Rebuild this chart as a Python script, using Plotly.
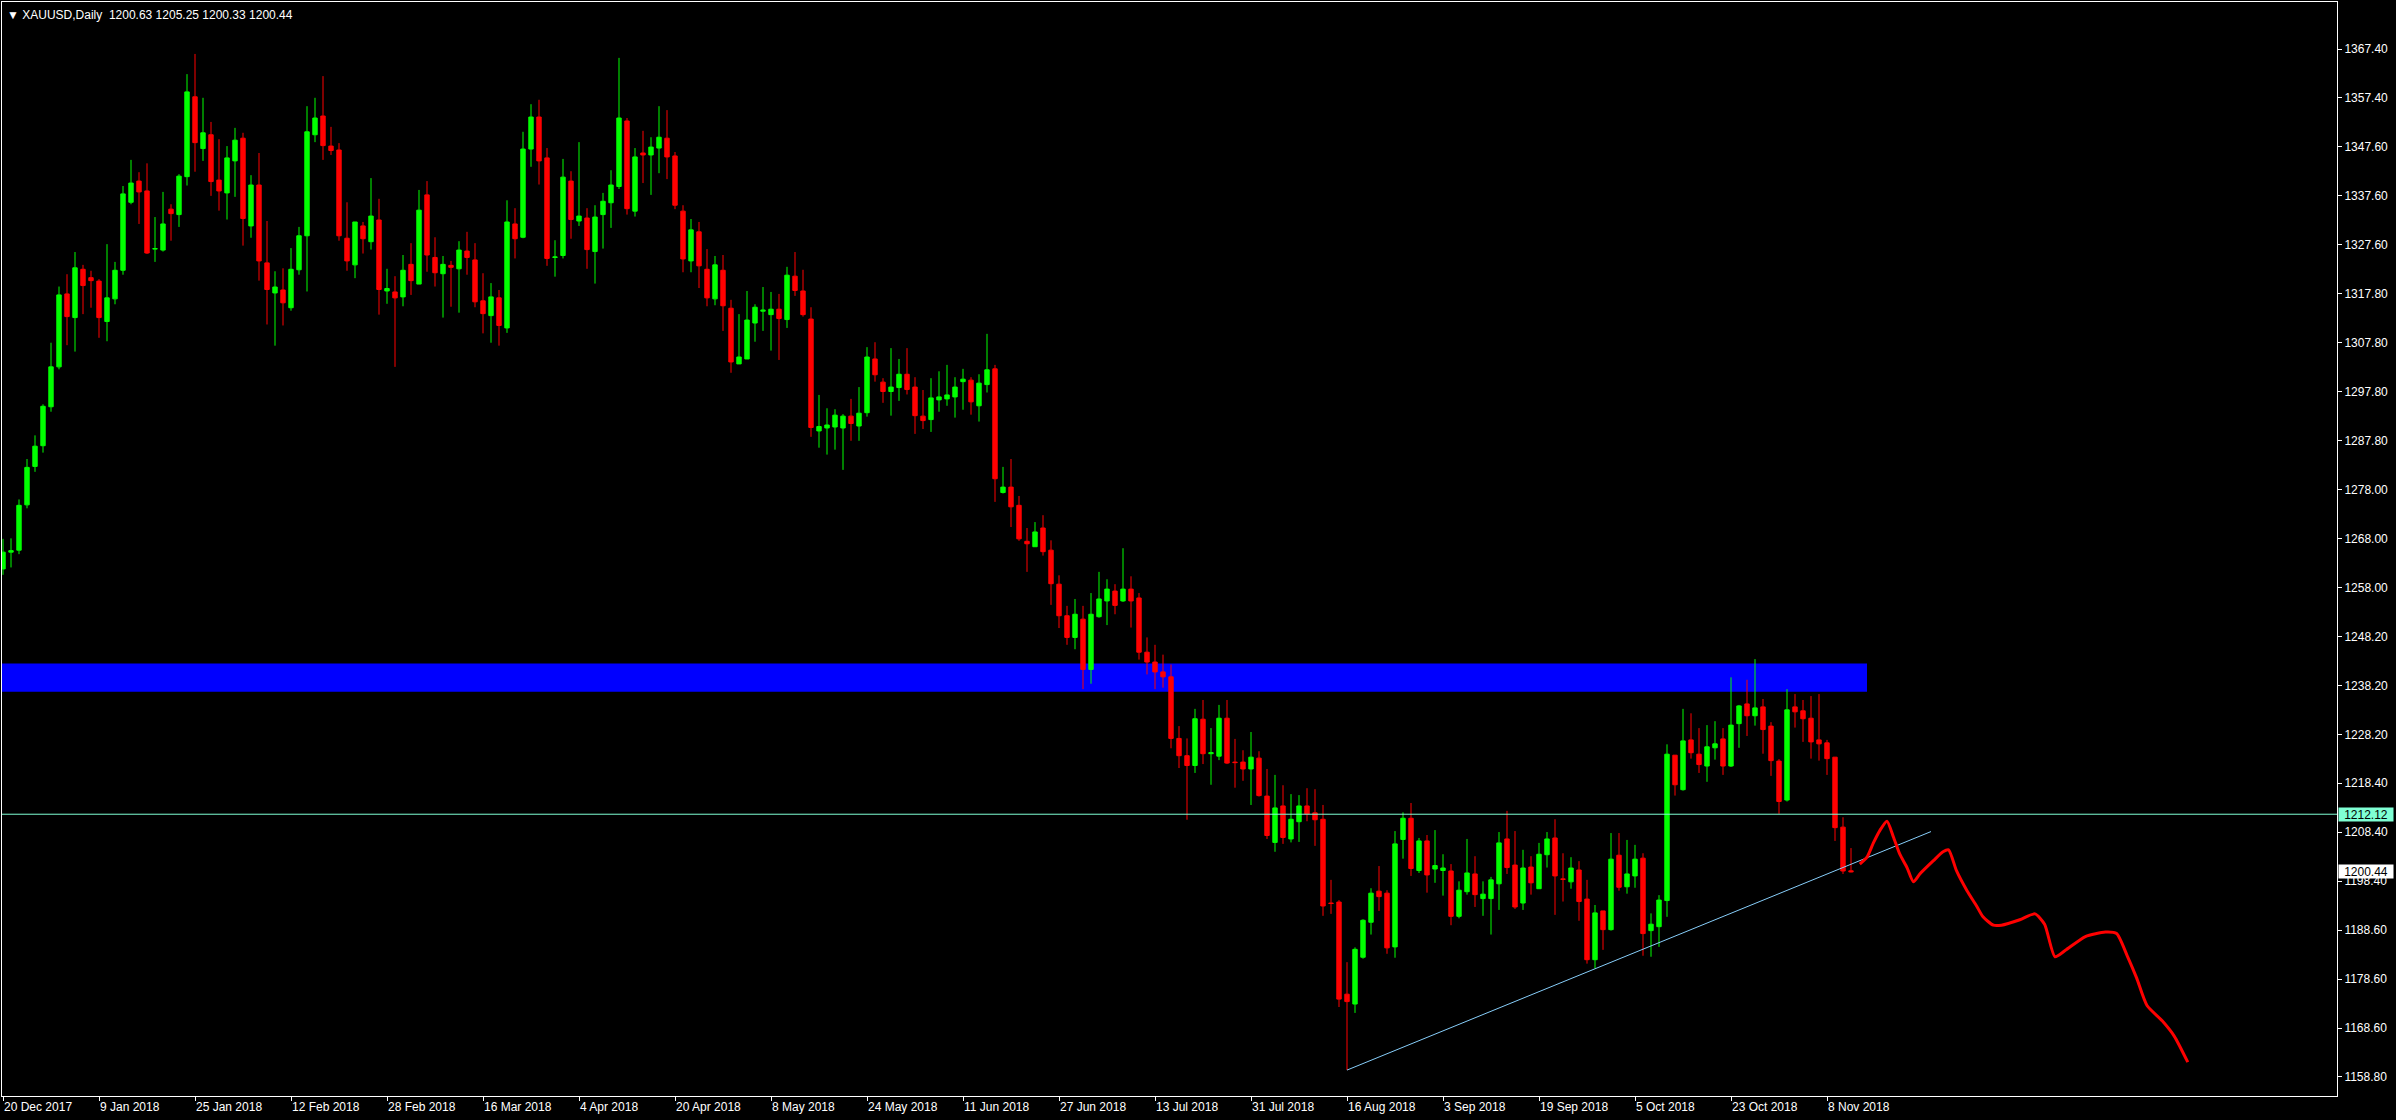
import numpy as np
import pandas as pd
import plotly.graph_objects as go

# ---------------- data ----------------
dates = pd.bdate_range("2017-12-20", "2018-11-13")
dates = dates[~dates.isin(pd.to_datetime(["2017-12-25", "2018-01-01", "2018-03-30"]))]

opens = [1261.9, 1265.3, 1265.7, 1274.9, 1282.7, 1286.9, 1294.8, 1302.9, 1317.7, 1312.9,
         1322.7, 1321.0, 1320.3, 1312.1, 1316.7, 1322.5, 1336.3, 1340.6, 1338.6, 1326.8,
         1326.6, 1334.9, 1333.8, 1341.5, 1357.7, 1347.2, 1350.0, 1340.8, 1338.2, 1344.7,
         1349.3, 1331.5, 1339.8, 1324.0, 1317.9, 1318.5, 1314.9, 1322.6, 1329.5, 1350.0,
         1353.8, 1347.7, 1346.9, 1329.0, 1323.6, 1331.5, 1328.3, 1332.7, 1318.3, 1318.1,
         1317.1, 1323.7, 1319.7, 1337.8, 1325.1, 1321.8, 1323.5, 1322.8, 1326.4, 1324.6,
         1316.3, 1313.3, 1316.9, 1310.8, 1331.9, 1329.2, 1347.1, 1353.6, 1345.3, 1325.1,
         1325.5, 1340.6, 1332.5, 1333.1, 1326.3, 1333.8, 1336.2, 1339.5, 1352.8, 1334.5,
         1346.3, 1345.9, 1347.3, 1349.3, 1345.7, 1334.5, 1324.4, 1330.3, 1322.7, 1316.7,
         1322.5, 1314.8, 1303.5, 1304.5, 1311.8, 1314.2, 1313.5, 1314.6, 1312.5, 1321.3,
         1318.3, 1312.6, 1289.9, 1290.5, 1290.7, 1290.5, 1292.9, 1290.9, 1293.6, 1304.5,
         1299.8, 1297.9, 1298.7, 1301.4, 1298.8, 1292.9, 1292.2, 1296.2, 1296.4, 1296.8,
         1299.9, 1300.2, 1295.0, 1299.3, 1302.5, 1277.4, 1278.5, 1274.8, 1267.5, 1266.4,
         1270.2, 1265.7, 1258.8, 1252.4, 1248.0, 1251.7, 1241.5, 1252.2, 1255.4, 1257.4,
         1255.4, 1257.8, 1256.0, 1245.0, 1243.0, 1241.0, 1240.0, 1227.5, 1224.0, 1222.0,
         1231.4, 1224.4, 1223.9, 1231.6, 1222.7, 1222.7, 1221.3, 1223.5, 1215.8, 1206.4,
         1213.8, 1207.1, 1210.6, 1213.8, 1212.4, 1211.1, 1194.1, 1194.3, 1175.6, 1173.6,
         1183.1, 1190.2, 1196.5, 1196.1, 1185.2, 1207.0, 1211.3, 1200.7, 1206.7, 1201.0,
         1200.7, 1200.6, 1191.4, 1196.4, 1200.0, 1195.0, 1195.0, 1198.0, 1207.1, 1201.8,
         1194.1, 1201.4, 1197.0, 1203.9, 1207.3, 1199.0, 1198.4, 1200.8, 1194.9, 1182.6,
         1192.5, 1188.7, 1203.8, 1197.4, 1199.6, 1203.2, 1188.5, 1189.3, 1194.6, 1224.1,
         1217.1, 1227.2, 1224.3, 1221.9, 1225.6, 1227.4, 1221.9, 1230.5, 1234.5, 1232.1,
         1233.9, 1230.0, 1222.9, 1215.0, 1233.9, 1233.1, 1231.6, 1227.2, 1226.6, 1223.7,
         1209.5, 1200.63]
highs = [1268.0, 1268.1, 1276.0, 1284.2, 1289.0, 1295.3, 1307.8, 1319.2, 1321.7, 1326.2,
         1323.6, 1322.4, 1320.7, 1327.8, 1324.2, 1339.6, 1344.9, 1342.4, 1344.2, 1333.3,
         1338.4, 1335.9, 1342.0, 1362.3, 1366.4, 1357.5, 1352.6, 1349.1, 1347.7, 1351.4,
         1350.4, 1341.8, 1346.3, 1332.5, 1322.3, 1322.9, 1327.0, 1331.3, 1355.8, 1357.5,
         1361.9, 1351.6, 1348.3, 1336.3, 1332.3, 1332.3, 1341.2, 1337.0, 1322.8, 1321.3,
         1325.6, 1328.0, 1338.8, 1340.6, 1329.2, 1325.4, 1324.4, 1328.4, 1330.3, 1328.0,
         1321.9, 1319.9, 1318.5, 1336.7, 1335.1, 1350.6, 1356.2, 1357.1, 1347.3, 1328.6,
         1345.1, 1342.6, 1348.5, 1335.1, 1335.7, 1338.2, 1342.8, 1365.6, 1353.4, 1347.3,
         1350.8, 1349.5, 1355.8, 1355.0, 1346.5, 1335.7, 1332.9, 1332.3, 1326.8, 1325.4,
         1325.6, 1316.5, 1313.6, 1318.3, 1315.6, 1319.1, 1318.1, 1317.7, 1323.2, 1326.2,
         1322.6, 1315.0, 1297.2, 1294.5, 1294.3, 1293.3, 1296.4, 1298.8, 1306.9, 1307.9,
         1300.6, 1306.7, 1304.5, 1306.7, 1300.8, 1298.2, 1300.6, 1302.0, 1303.3, 1300.8,
         1302.5, 1300.8, 1301.4, 1309.6, 1303.3, 1282.6, 1284.2, 1276.7, 1270.2, 1271.4,
         1272.8, 1267.7, 1260.6, 1254.4, 1255.8, 1254.4, 1257.0, 1261.3, 1259.8, 1258.8,
         1266.1, 1260.4, 1257.0, 1248.0, 1246.5, 1244.5, 1242.5, 1230.0, 1227.5, 1233.5,
         1235.3, 1229.6, 1234.3, 1235.3, 1227.4, 1225.1, 1228.8, 1224.9, 1221.3, 1220.1,
         1218.0, 1216.2, 1216.0, 1217.4, 1217.2, 1214.0, 1198.8, 1194.7, 1182.1, 1185.1,
         1190.8, 1197.1, 1201.6, 1196.7, 1208.7, 1212.5, 1214.4, 1207.3, 1207.9, 1208.9,
         1204.0, 1202.0, 1198.5, 1207.1, 1203.6, 1198.5, 1199.4, 1208.5, 1212.8, 1208.7,
         1204.9, 1203.6, 1206.3, 1208.5, 1211.1, 1204.2, 1203.4, 1202.6, 1198.8, 1193.7,
         1192.5, 1208.3, 1208.3, 1206.9, 1205.9, 1204.2, 1192.0, 1195.7, 1226.3, 1224.1,
         1233.5, 1232.6, 1229.6, 1230.2, 1231.0, 1229.6, 1239.9, 1234.3, 1239.4, 1243.6,
         1235.5, 1230.8, 1223.3, 1237.5, 1236.5, 1235.3, 1236.1, 1236.5, 1227.2, 1223.7,
         1211.5, 1205.25]
lows = [1260.7, 1262.2, 1264.9, 1274.2, 1281.6, 1285.5, 1293.8, 1302.4, 1307.3, 1306.0,
        1313.6, 1314.9, 1308.8, 1308.1, 1315.6, 1321.6, 1335.9, 1331.9, 1325.8, 1324.2,
        1326.3, 1328.5, 1331.3, 1339.7, 1342.5, 1344.7, 1337.6, 1334.6, 1332.8, 1337.4,
        1327.5, 1329.1, 1320.4, 1311.5, 1307.2, 1311.3, 1314.3, 1321.6, 1318.2, 1348.5,
        1344.9, 1345.9, 1328.5, 1322.4, 1320.9, 1325.9, 1326.7, 1313.5, 1315.7, 1302.9,
        1315.2, 1317.5, 1319.7, 1322.2, 1319.2, 1312.9, 1315.1, 1313.9, 1321.6, 1315.0,
        1309.7, 1307.8, 1307.2, 1309.8, 1324.9, 1329.0, 1343.5, 1339.9, 1323.4, 1321.2,
        1324.9, 1328.9, 1331.5, 1322.8, 1319.8, 1326.9, 1331.1, 1339.0, 1333.8, 1333.4,
        1340.2, 1337.8, 1342.2, 1341.0, 1334.9, 1322.1, 1322.1, 1318.9, 1315.2, 1315.4,
        1310.2, 1301.7, 1303.5, 1304.5, 1308.0, 1310.2, 1306.2, 1304.3, 1310.8, 1317.3,
        1313.1, 1288.7, 1286.5, 1285.1, 1286.1, 1282.0, 1287.9, 1287.9, 1292.8, 1299.9,
        1295.6, 1293.0, 1296.0, 1297.3, 1289.3, 1290.3, 1289.7, 1293.8, 1295.0, 1292.6,
        1294.2, 1293.2, 1291.8, 1297.7, 1275.5, 1277.2, 1270.4, 1267.6, 1261.3, 1266.4,
        1264.6, 1254.6, 1249.9, 1246.5, 1245.6, 1237.5, 1238.6, 1252.0, 1250.5, 1252.7,
        1255.2, 1250.0, 1243.5, 1240.5, 1237.5, 1237.8, 1225.5, 1221.5, 1211.0, 1220.5,
        1222.3, 1218.1, 1223.1, 1222.3, 1217.5, 1218.9, 1214.0, 1215.7, 1207.1, 1204.5,
        1206.1, 1206.4, 1206.5, 1210.7, 1205.7, 1191.5, 1191.9, 1173.0, 1160.2, 1171.8,
        1182.8, 1187.7, 1192.5, 1183.8, 1183.0, 1203.1, 1199.6, 1200.2, 1196.2, 1198.2,
        1195.6, 1189.6, 1191.0, 1195.8, 1193.3, 1191.5, 1187.7, 1192.7, 1200.0, 1192.9,
        1192.7, 1195.8, 1197.0, 1201.3, 1191.7, 1194.4, 1197.0, 1190.5, 1181.8, 1180.8,
        1184.6, 1188.5, 1196.6, 1196.0, 1197.2, 1183.4, 1183.2, 1185.2, 1191.3, 1215.9,
        1216.9, 1223.4, 1220.5, 1218.7, 1223.2, 1220.1, 1221.7, 1225.6, 1228.0, 1230.1,
        1224.4, 1219.9, 1212.2, 1214.7, 1229.7, 1226.8, 1223.4, 1223.0, 1220.1, 1206.7,
        1200.0, 1200.33]
closes = [1265.3, 1265.6, 1274.8, 1282.5, 1286.8, 1294.9, 1302.9, 1317.5, 1313.1, 1323.0,
          1319.4, 1320.4, 1312.9, 1316.9, 1322.5, 1338.0, 1340.2, 1338.4, 1326.0, 1326.9,
          1331.9, 1334.0, 1341.6, 1358.7, 1348.4, 1350.4, 1340.5, 1338.6, 1345.3, 1348.9,
          1333.0, 1339.8, 1324.4, 1318.6, 1319.1, 1315.9, 1322.7, 1329.5, 1350.6, 1353.4,
          1347.8, 1346.8, 1329.5, 1324.4, 1332.3, 1328.9, 1333.5, 1318.6, 1318.8, 1316.9,
          1322.5, 1320.4, 1334.7, 1325.6, 1322.0, 1323.7, 1323.1, 1326.6, 1325.1, 1316.1,
          1313.7, 1317.1, 1311.3, 1332.3, 1328.9, 1347.1, 1353.6, 1344.7, 1324.9, 1325.2,
          1341.4, 1332.8, 1333.5, 1326.7, 1333.3, 1336.5, 1339.8, 1353.4, 1335.0, 1345.5,
          1345.9, 1347.5, 1349.5, 1345.5, 1335.7, 1324.8, 1330.7, 1323.4, 1316.9, 1323.6,
          1315.3, 1303.9, 1304.9, 1312.4, 1315.0, 1314.4, 1314.6, 1312.7, 1321.5, 1318.4,
          1313.5, 1290.6, 1290.8, 1291.1, 1293.1, 1292.9, 1291.4, 1293.5, 1304.9, 1301.3,
          1297.9, 1298.8, 1301.4, 1298.3, 1293.0, 1292.0, 1296.6, 1296.8, 1297.2, 1298.8,
          1300.4, 1295.8, 1299.6, 1302.3, 1280.2, 1278.5, 1274.5, 1268.0, 1267.0, 1269.4,
          1265.4, 1258.9, 1252.4, 1248.0, 1252.7, 1241.5, 1252.7, 1255.8, 1257.8, 1254.5,
          1257.8, 1255.4, 1245.0, 1243.0, 1241.0, 1240.0, 1227.5, 1224.0, 1222.0, 1231.5,
          1224.4, 1224.6, 1231.6, 1222.5, 1222.6, 1221.3, 1223.7, 1215.9, 1207.8, 1213.4,
          1207.4, 1211.1, 1213.8, 1212.2, 1211.0, 1193.5, 1194.0, 1174.6, 1174.1, 1184.7,
          1190.6, 1196.1, 1195.4, 1185.0, 1206.1, 1211.3, 1201.1, 1206.7, 1199.8, 1201.7,
          1201.2, 1191.4, 1196.7, 1200.2, 1195.8, 1195.9, 1198.8, 1206.3, 1201.3, 1193.3,
          1201.2, 1198.2, 1204.0, 1207.1, 1199.6, 1198.9, 1201.2, 1194.4, 1182.6, 1192.1,
          1188.7, 1203.0, 1197.3, 1200.0, 1203.0, 1187.9, 1189.8, 1194.7, 1224.3, 1218.1,
          1227.0, 1224.6, 1222.2, 1225.8, 1226.4, 1221.9, 1230.2, 1234.1, 1232.1, 1233.7,
          1229.3, 1223.0, 1214.7, 1233.3, 1232.9, 1231.5, 1226.8, 1226.4, 1223.4, 1209.4,
          1200.6, 1200.44]

x_tick_labels = ["20 Dec 2017", "9 Jan 2018", "25 Jan 2018", "12 Feb 2018", "28 Feb 2018",
                 "16 Mar 2018", "4 Apr 2018", "20 Apr 2018", "8 May 2018", "24 May 2018",
                 "11 Jun 2018", "27 Jun 2018", "13 Jul 2018", "31 Jul 2018", "16 Aug 2018",
                 "3 Sep 2018", "19 Sep 2018", "5 Oct 2018", "23 Oct 2018", "8 Nov 2018"]
y_tick_labels = ["1158.80", "1168.60", "1178.60", "1188.60", "1198.40", "1208.40", "1218.40",
                 "1228.20", "1238.20", "1248.20", "1258.00", "1268.00", "1278.00", "1287.80",
                 "1297.80", "1307.80", "1317.80", "1327.60", "1337.60", "1347.60", "1357.40",
                 "1367.40"]

# support zone (blue band), trend line, projection
zone_low, zone_high, zone_end_bar = 1236.98, 1242.73, 233.0
trend_x = [168.0, 241.0]
trend_y = [1160.2, 1208.6]
hline_price = 1212.12
last_price = 1200.44
proj_x = [232.1, 233.0, 233.8, 234.6, 235.5, 236.3, 237.1, 238.0, 238.8, 239.6, 241.3, 242.5,
          243.2, 244.2, 245.5, 246.7, 247.5, 248.8, 249.8, 252.1, 254.0, 255.2, 256.5, 257.8,
          260.3, 262.8, 264.2, 265.5, 266.7, 268.0, 269.9, 271.4, 273.1]
proj_y = [1202.0, 1203.4, 1206.3, 1208.8, 1210.7, 1207.5, 1204.0, 1201.3, 1198.4, 1200.0,
          1202.7, 1204.5, 1204.9, 1200.6, 1196.6, 1193.5, 1191.3, 1189.6, 1189.6, 1190.7,
          1191.9, 1189.8, 1183.2, 1184.5, 1187.3, 1188.2, 1187.9, 1183.5, 1178.9, 1173.3,
          1170.2, 1167.1, 1161.8]

# ---------------- figure ----------------
n = len(opens)
bar_idx = list(range(n))
date_pos = {d.strftime("%Y-%m-%d"): i for i, d in enumerate(dates)}
tickvals_x = [date_pos.get(pd.to_datetime(s).strftime("%Y-%m-%d"), 12 * k)
              for k, s in enumerate(x_tick_labels)]
tickvals_y = list(np.linspace(float(y_tick_labels[0]), float(y_tick_labels[-1]), len(y_tick_labels)))

x_range = [-0.125, 291.75]
y_range = [1154.94, 1376.94]

FONT = "Liberation Sans"
fig = go.Figure()

fig.add_trace(go.Candlestick(
    x=bar_idx, open=opens, high=highs, low=lows, close=closes,
    increasing=dict(line=dict(color="#00ff00", width=1), fillcolor="#00ff00"),
    decreasing=dict(line=dict(color="#ff0000", width=1), fillcolor="#ff0000"),
    whiskerwidth=0, showlegend=False, hoverinfo="skip",
))

fig.add_trace(go.Scatter(x=trend_x, y=trend_y, mode="lines",
                         line=dict(color="#87cefa", width=1), showlegend=False, hoverinfo="skip"))
fig.add_trace(go.Scatter(x=proj_x, y=proj_y, mode="lines",
                         line=dict(color="#ff0000", width=3, shape="spline", smoothing=0.6),
                         showlegend=False, hoverinfo="skip"))

fig.add_shape(type="rect", xref="x", yref="y", x0=x_range[0], x1=zone_end_bar,
              y0=zone_low, y1=zone_high, fillcolor="#0000ff", line=dict(width=0), layer="below")
fig.add_shape(type="line", xref="x", yref="y", x0=x_range[0], x1=x_range[1],
              y0=hline_price, y1=hline_price, line=dict(color="#7fffd4", width=1), layer="above")

fig.add_annotation(xref="paper", yref="y", x=1, y=hline_price, xanchor="left", yanchor="middle",
                   xshift=1, text=f"{hline_price:.2f}", showarrow=False, bgcolor="#7fffd4",
                   font=dict(family=FONT, size=12, color="#000000"), width=54, height=13, borderpad=0)
fig.add_annotation(xref="paper", yref="y", x=1, y=last_price, xanchor="left", yanchor="middle",
                   xshift=1, text=f"{last_price:.2f}", showarrow=False, bgcolor="#ffffff",
                   font=dict(family=FONT, size=12, color="#000000"), width=54, height=13, borderpad=0)

title_text = "\u25BC\u00a0XAUUSD,Daily\u00a0\u00a0{:.2f} {:.2f} {:.2f} {:.2f}".format(
    opens[-1], highs[-1], lows[-1], closes[-1])
fig.add_annotation(xref="paper", yref="paper", x=0, y=1, xanchor="left", yanchor="top",
                   xshift=3, yshift=-4, text=title_text, showarrow=False,
                   font=dict(family=FONT, size=12, color="#ffffff"))

fig.update_layout(
    width=2396, height=1120,
    margin=dict(l=2, r=59, t=2, b=24),
    paper_bgcolor="#000000", plot_bgcolor="#000000",
    boxgap=0.45, boxgroupgap=0,
    showlegend=False,
    font=dict(family=FONT, size=12, color="#ffffff"),
    xaxis=dict(range=x_range, tickmode="array", tickvals=tickvals_x, ticktext=x_tick_labels,
               ticks="outside", ticklen=4, tickcolor="#ffffff", ticklabelposition="outside right",
               tickfont=dict(family=FONT, size=12, color="#ffffff"),
               showgrid=False, zeroline=False, showline=True, mirror=True,
               linecolor="#ffffff", linewidth=1, rangeslider=dict(visible=False), automargin=False),
    yaxis=dict(range=y_range, side="right", tickmode="array", tickvals=tickvals_y,
               ticktext=y_tick_labels, ticks="outside", ticklen=4, tickcolor="#ffffff",
               tickfont=dict(family=FONT, size=12, color="#ffffff"),
               showgrid=False, zeroline=False, showline=True, mirror=True,
               linecolor="#ffffff", linewidth=1, automargin=False),
)

fig.write_html("out.html",
               config={"displayModeBar": False},
               post_script="document.body.style.margin='0';document.body.style.overflow='hidden';"
                           "document.body.style.background='#000';")
